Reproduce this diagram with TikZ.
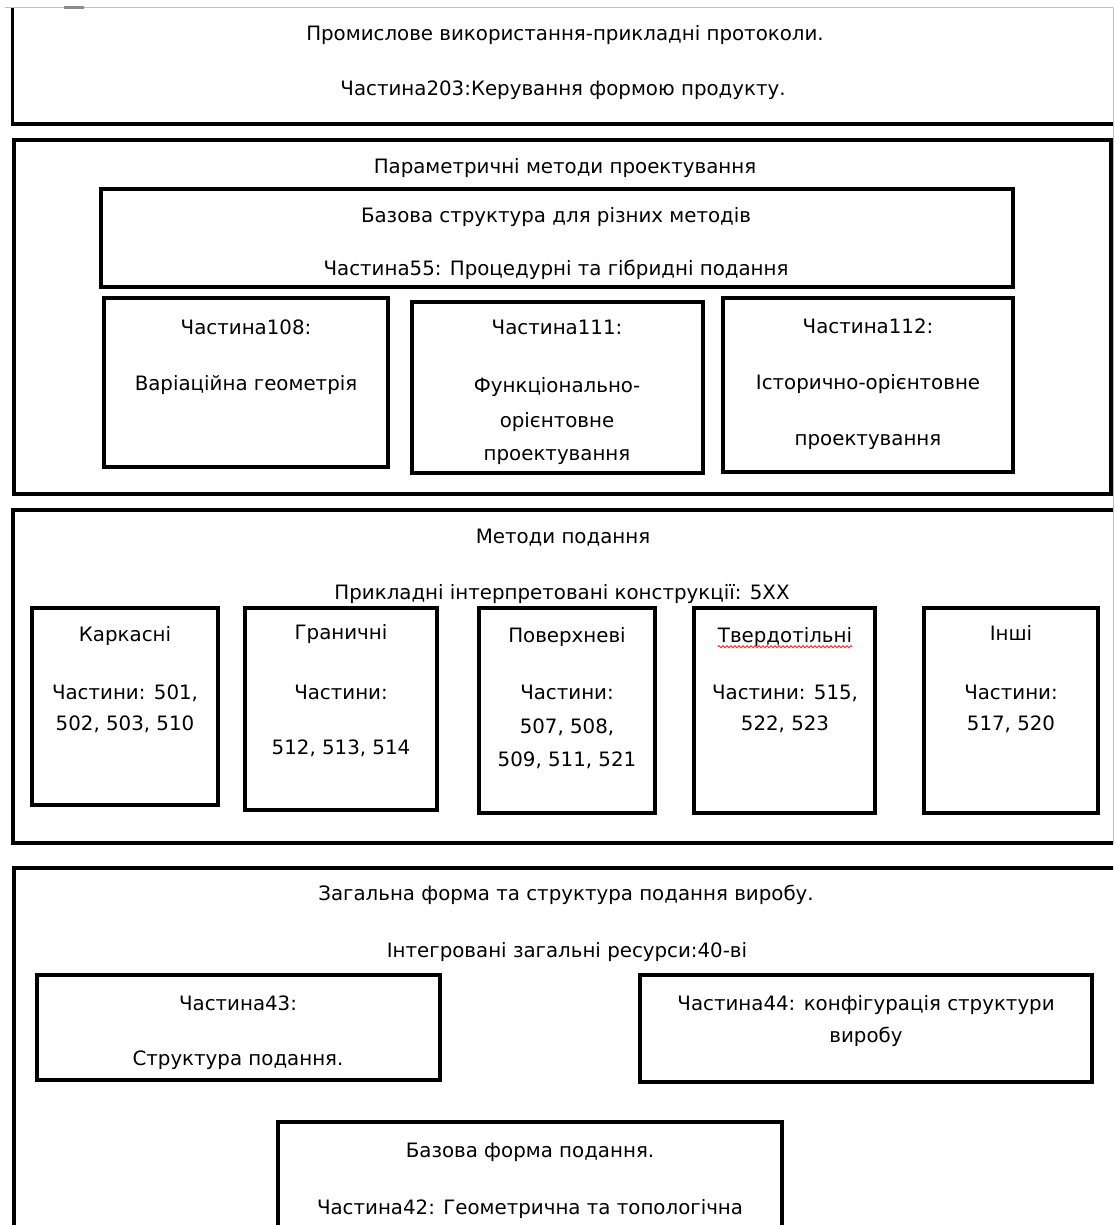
\documentclass[tikz,border=0pt]{standalone}
\usepackage{fontspec}
\setmainfont{DejaVu Sans}
\usetikzlibrary{decorations.pathmorphing}
\begin{document}
\begin{tikzpicture}[x=1pt,y=-1pt,
 box/.style={draw=black, line width=3.5pt, rectangle, inner sep=0pt, outer sep=0pt, anchor=north west},
 txt/.style={font=\fontsize{19.8}{23}\selectfont, inner sep=0pt, anchor=mid, text=black, yshift=-5pt},
 pageedge/.style={draw=black!25, line width=1pt}]

\useasboundingbox[fill=white] (0,0) rectangle (1115,1225);

\begin{scope}
\clip (0,9) rectangle (1113,1225);
% boxes
\node[box, minimum width=1128pt, minimum height=144pt] (prot) at (12.5,-20) {};
\node[box, minimum width=1097pt, minimum height=354pt] (param) at (14,140) {};
\node[box, minimum width=912pt, minimum height=98pt] (base55) at (101,189) {};
\node[box, minimum width=284pt, minimum height=169pt] (p108) at (104,298) {};
\node[box, minimum width=291pt, minimum height=171pt] (p111) at (412,302) {};
\node[box, minimum width=290pt, minimum height=174pt] (p112) at (723,298) {};
\node[box, minimum width=1127pt, minimum height=333pt] (meth) at (13,510) {};
\node[box, minimum width=186pt, minimum height=197pt] (kark) at (32,608) {};
\node[box, minimum width=192pt, minimum height=202pt] (gran) at (245,608) {};
\node[box, minimum width=176pt, minimum height=205pt] (pov) at (479,608) {};
\node[box, minimum width=181pt, minimum height=205pt] (tverd) at (694,608) {};
\node[box, minimum width=174pt, minimum height=205pt] (inshi) at (924,608) {};
\node[box, minimum width=1126pt, minimum height=392pt] (gen) at (14,868) {};
\node[box, minimum width=403pt, minimum height=105pt] (p43) at (37,975) {};
\node[box, minimum width=452pt, minimum height=107pt] (p44) at (640,975) {};
\node[box, minimum width=504pt, minimum height=138pt] (base42) at (278,1122) {};

% texts
\node[txt] (t1) at (565,33) {Промислове використання-прикладні протоколи.};
\node[txt] (t2) at (563,88) {Частина203:Керування формою продукту.};
\node[txt] (t3) at (565,166) {Параметричні методи проектування};
\node[txt] (t4) at (556,215) {Базова структура для різних методів};
\node[txt] (t5) at (556,268) {Частина55: Процедурні та гібридні подання};
\node[txt] (t6) at (246,327) {Частина108:};
\node[txt] (t7) at (246,383) {Варіаційна геометрія};
\node[txt] (t8) at (557,327) {Частина111:};
\node[txt] (t9) at (557,385) {Функціонально-};
\node[txt] (t10) at (557,420) {орієнтовне};
\node[txt] (t11) at (557,453) {проектування};
\node[txt] (t12) at (868,326) {Частина112:};
\node[txt] (t13) at (868,382) {Історично-орієнтовне};
\node[txt] (t14) at (868,438) {проектування};
\node[txt] (t15) at (563,536) {Методи подання};
\node[txt] (t16) at (562,592) {Прикладні інтерпретовані конструкції: 5XX};
\node[txt] (t17) at (125,634) {Каркасні};
\node[txt] (t18) at (125,692) {Частини: 501,};
\node[txt] (t19) at (125,723) {502, 503, 510};
\node[txt] (t20) at (341,632) {Граничні};
\node[txt] (t21) at (341,692) {Частини:};
\node[txt] (t22) at (341,747) {512, 513, 514};
\node[txt] (t23) at (567,635) {Поверхневі};
\node[txt] (t24) at (567,692) {Частини:};
\node[txt] (t25) at (567,726) {507, 508,};
\node[txt] (t26) at (567,759) {509, 511, 521};
\node[txt] (tvt) at (785,635) {Твердотільні};
\node[txt] (t28) at (785,692) {Частини: 515,};
\node[txt] (t29) at (785,723) {522, 523};
\node[txt] (t30) at (1011,633) {Інші};
\node[txt] (t31) at (1011,692) {Частини:};
\node[txt] (t32) at (1011,723) {517, 520};
\node[txt] (t33) at (566,893) {Загальна форма та структура подання виробу.};
\node[txt] (t34) at (567,950) {Інтегровані загальні ресурси:40-ві};
\node[txt] (t35) at (238,1003) {Частина43:};
\node[txt] (t36) at (238,1058) {Структура подання.};
\node[txt] (t37) at (866,1003) {Частина44: конфігурація структури};
\node[txt] (t38) at (866,1035) {виробу};
\node[txt] (t39) at (530,1150) {Базова форма подання.};
\node[txt] (t40) at (530,1207) {Частина42: Геометрична та топологічна};

% spell-check squiggle
\draw[red!85, line width=0.9pt, decorate, decoration={snake, amplitude=1.1pt, segment length=4pt}]
  ([yshift=-4pt]tvt.base west) -- ([yshift=-4pt]tvt.base east);
\end{scope}

% page edges
\draw[pageedge] (5,8) -- (1113,8);
\draw[pageedge] (1113,8) -- (1113,843);
\fill[black!45] (64,6.5) rectangle (84,9);
\end{tikzpicture}
\end{document}
